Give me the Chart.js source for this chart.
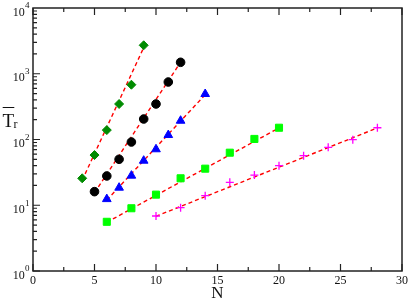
<!DOCTYPE html>
<html>
<head>
<meta charset="utf-8">
<script src="https://cdn.jsdelivr.net/npm/chart.js@4/dist/chart.umd.min.js"></script>
<style>
html,body{margin:0;padding:0;background:#fff;}
#wrap{width:409px;height:300px;}
</style>
</head>
<body>
<div id="wrap"><canvas id="c" width="409" height="300"></canvas></div>
<script>
// ---- data ----
const nDiamond = [4, 5, 6, 7, 8, 9];
const tDiamond = [25.7, 58, 139, 347, 681, 2710];
const nCircle = [5, 6, 7, 8, 9, 10, 11, 12];
const tCircle = [16.1, 27.9, 50, 91.6, 205, 347, 749, 1493];
const nTriangle = [6, 7, 8, 9, 10, 11, 12, 14];
const tTriangle = [12.4, 18.5, 28.2, 47.6, 71, 117, 193, 492];
const nSquare = [6, 8, 10, 12, 14, 16, 18, 20];
const tSquare = [5.6, 9.0, 14.5, 25.7, 36, 63, 102, 151];
const nPlus = [10, 12, 14, 16, 18, 20, 22, 24, 26, 28];
const tPlus = [6.86, 9.2, 14, 22.3, 28.8, 40, 56.7, 76, 99.5, 151];

// dashed fit lines (end points)
const fitDiamondN = [4, 9];    const fitDiamondT = [24, 2500];
const fitCircleN = [5, 12];    const fitCircleT = [15.5, 1500];
const fitTriangleN = [6, 14];  const fitTriangleT = [12, 480];
const fitSquareN = [6, 20];    const fitSquareT = [5.5, 150];
const fitPlusN = [10, 28];     const fitPlusT = [6.8, 150];

const xTickLabels = ['0', '5', '10', '15', '20', '25', '30'];
const yTickExponents = ['0', '1', '2', '3', '4'];

function pts(xs, ys) { return xs.map((x, i) => ({x: x, y: ys[i]})); }

function markers(xs, ys, style, color, radius, bw) {
  return {type: 'scatter', data: pts(xs, ys), pointStyle: style,
    backgroundColor: color, borderColor: color, pointRadius: radius,
    pointBorderWidth: bw, showLine: false, order: 1};
}
function fit(xs, ys) {
  return {type: 'line', data: pts(xs, ys), borderColor: '#ff0000',
    borderWidth: 1.4, borderDash: [4, 3], pointRadius: 0, fill: false,
    tension: 0, order: 2};
}

const frame = {
  id: 'frame',
  afterDraw(chart) {
    const ctx = chart.ctx;
    const a = chart.chartArea;
    const xs = chart.scales.x, ys = chart.scales.y;
    ctx.save();
    ctx.strokeStyle = '#222';
    ctx.lineWidth = 1.5;
    ctx.strokeRect(a.left, a.top, a.right - a.left, a.bottom - a.top);
    ctx.lineWidth = 1.2;
    ctx.beginPath();
    // x ticks (bottom, top), inward
    for (let v = 0; v <= 30; v += 2.5) {
      const px = xs.getPixelForValue(v);
      const len = (v % 5 === 0) ? 7 : 4;
      ctx.moveTo(px, a.bottom); ctx.lineTo(px, a.bottom - len);
      ctx.moveTo(px, a.top); ctx.lineTo(px, a.top + len);
    }
    // y ticks (left), inward
    for (let e = 0; e < 4; e++) {
      for (let m = 1; m <= 9; m++) {
        const py = ys.getPixelForValue(m * Math.pow(10, e));
        const len = (m === 1) ? 7 : 4;
        ctx.moveTo(a.left, py); ctx.lineTo(a.left + len, py);
      }
    }
    ctx.stroke();
    ctx.fillStyle = '#111';
    // x tick labels
    ctx.font = '12px "Liberation Serif", serif';
    ctx.textAlign = 'center';
    ctx.textBaseline = 'alphabetic';
    xTickLabels.forEach(t => {
      ctx.fillText(t, xs.getPixelForValue(Number(t)), 283.5);
    });
    // y tick labels 10^k
    yTickExponents.forEach(k => {
      const py = ys.getPixelForValue(Math.pow(10, Number(k)));
      ctx.font = '12px "Liberation Serif", serif';
      ctx.textAlign = 'left';
      ctx.fillText('10', 12.7, py + 7.5);
      const w = ctx.measureText('10').width;
      ctx.font = '9px "Liberation Serif", serif';
      ctx.fillText(k, 12.7 + w + 0.3, py + 0.3);
    });
    // axis titles
    ctx.font = '17px "Liberation Serif", serif';
    ctx.textAlign = 'center';
    ctx.fillText('N', (a.left + a.right) / 2, 298);
    ctx.textAlign = 'left';
    ctx.font = '19px "Liberation Serif", serif';
    ctx.fillText('T', 2.5, 126.5);
    const tw = ctx.measureText('T').width;
    ctx.lineWidth = 1;
    ctx.strokeStyle = '#111';
    ctx.beginPath();
    ctx.moveTo(2.7, 107.5); ctx.lineTo(2.7 + tw, 107.5);
    ctx.stroke();
    ctx.font = '12px "Liberation Serif", serif';
    ctx.fillText('r', 2.5 + tw - 0.5, 127.5);
    ctx.restore();
  }
};

new Chart(document.getElementById('c'), {
  data: {
    datasets: [
      markers(nDiamond, tDiamond, 'rectRot', 'rgb(0,139,0)', 4.5, 1),
      markers(nCircle, tCircle, 'circle', '#000000', 4.3, 1),
      markers(nTriangle, tTriangle, 'triangle', '#0000ff', 5, 1),
      markers(nSquare, tSquare, 'rect', '#00ff00', 5, 1),
      markers(nPlus, tPlus, 'cross', '#ff00ff', 4, 1.3),
      fit(fitDiamondN, fitDiamondT),
      fit(fitCircleN, fitCircleT),
      fit(fitTriangleN, fitTriangleT),
      fit(fitSquareN, fitSquareT),
      fit(fitPlusN, fitPlusT)
    ]
  },
  options: {
    responsive: false,
    animation: false,
    devicePixelRatio: 1,
    layout: {padding: {left: 33, right: 7, top: 8, bottom: 29}},
    plugins: {legend: {display: false}, tooltip: {enabled: false}},
    scales: {
      x: {type: 'linear', min: 0, max: 30, display: false},
      y: {type: 'logarithmic', min: 1, max: 10000, display: false}
    }
  },
  plugins: [frame]
});
</script>
</body>
</html>
